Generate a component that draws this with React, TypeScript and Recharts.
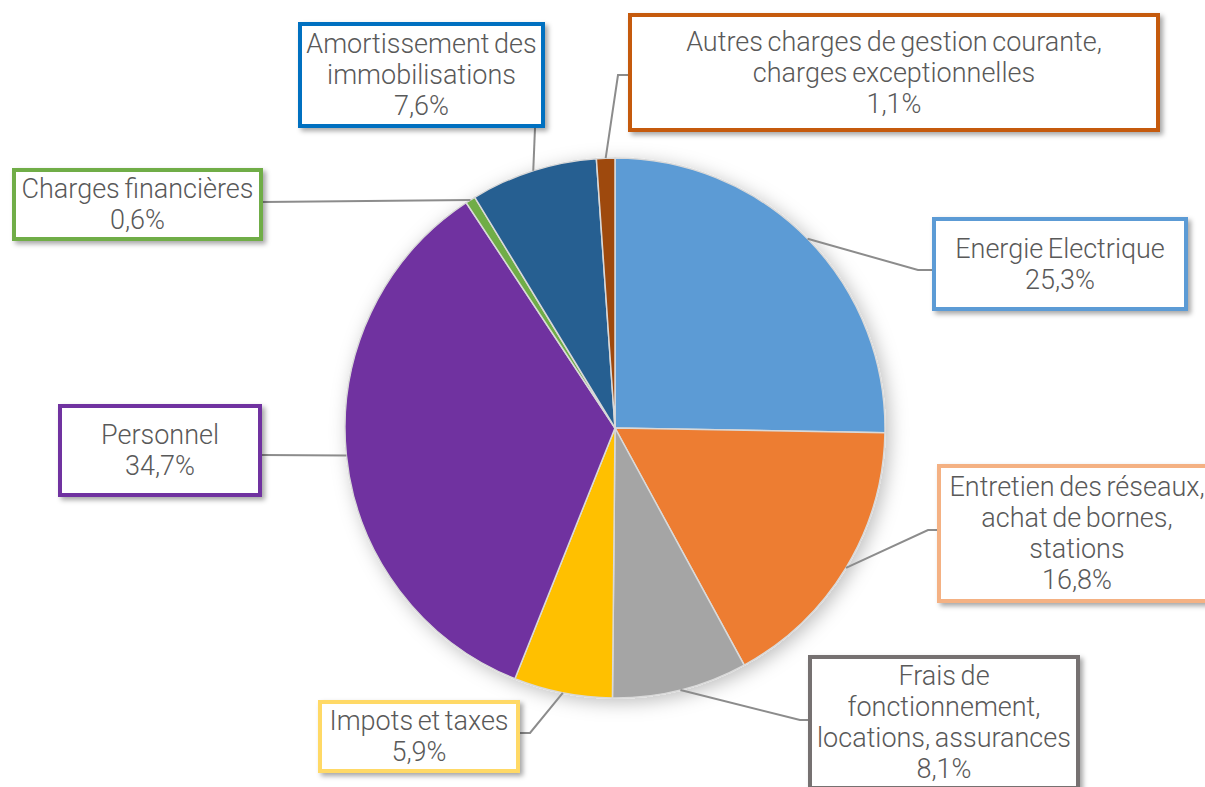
import { PieChart, Pie, Cell } from 'recharts';

const categories = [
  'Energie Electrique',
  'Entretien des réseaux,\nachat de bornes,\nstations',
  'Frais de\nfonctionnement,\nlocations, assurances',
  'Impots et taxes',
  'Personnel',
  'Charges financières',
  'Amortissement des\nimmobilisations',
  'Autres charges de gestion courante,\ncharges exceptionnelles',
];
const shares = [25.3, 16.8, 8.1, 5.9, 34.7, 0.6, 7.6, 1.1];

const sliceColors = ['#5B9BD5', '#ED7D31', '#A5A5A5', '#FFC000', '#7030A0', '#70AD47', '#255E91', '#9E480E'];
const boxColors = ['#5B9BD5', '#F4B183', '#767171', '#FFD966', '#7030A0', '#70AD47', '#0070C0', '#C55A11'];

// label box placement: [x, y, w, h] and leader line points after the arc point
const boxes = [
  { box: [932, 217, 256, 94], path: [[918, 270], [932, 270]] },
  { box: [937, 464, 280, 139], path: [[928, 530], [937, 530]] },
  { box: [808, 655, 272, 135], path: [[800, 720], [808, 720]] },
  { box: [318, 700, 202, 73], path: [[530, 733], [520, 733]] },
  { box: [58, 404, 204, 93], path: [[262, 455]] },
  { box: [12, 168, 251, 73], path: [[263, 202]] },
  { box: [298, 22, 247, 106], path: [[535, 128]] },
  { box: [628, 13, 532, 119], path: [[618, 75], [628, 75]] },
];

const data = categories.map((name, i) => ({ name, value: shares[i] }));

const RAD = Math.PI / 180;
const LINE_H = 31;

function renderLabel(props: any) {
  const { cx, cy, midAngle, outerRadius, index, value } = props;
  const sx = cx + outerRadius * Math.cos(-midAngle * RAD);
  const sy = cy + outerRadius * Math.sin(-midAngle * RAD);
  const { box, path } = boxes[index];
  const [bx, by, bw, bh] = box;
  const pts = [[sx, sy], ...path].map(p => p.join(',')).join(' ');
  const lines = [...categories[index].split('\n'), `${value.toFixed(1).replace('.', ',')}%`];
  const top = by + (bh - lines.length * LINE_H) / 2 + LINE_H / 2;
  return (
    <g key={`lbl-${index}`}>
      <polyline points={pts} fill="none" stroke="#8C8C8C" strokeWidth={2} />
      <rect x={bx + 2} y={by + 2} width={bw - 4} height={bh - 4} fill="#fff"
        stroke={boxColors[index]} strokeWidth={4} filter="url(#boxShadow)" />
      {lines.map((t, j) => (
        <text key={j} x={bx + bw / 2} y={top + j * LINE_H} textAnchor="middle" dominantBaseline="central"
          fill="#595959" fontSize={27} fontWeight={300} fontFamily="Roboto, sans-serif"
          style={{ wordSpacing: -2 }}>
          {t}
        </text>
      ))}
    </g>
  );
}

export default function App() {
  return (
    <div style={{ position: 'absolute', left: 0, top: 0, width: 1205, height: 787, background: '#fff', overflow: 'hidden' }}>
      <style>{`g:has(> g.recharts-pie-sector) { filter: url(#pieShadow); }`}</style>
      <svg width={0} height={0} style={{ position: 'absolute' }}>
        <defs>
          <filter id="pieShadow" x="-20%" y="-20%" width="140%" height="140%">
            <feDropShadow dx={4} dy={4} stdDeviation={9} floodColor="#000" floodOpacity={0.25} />
          </filter>
          <filter id="boxShadow" x="-10%" y="-20%" width="120%" height="140%">
            <feDropShadow dx={3} dy={3} stdDeviation={2.5} floodColor="#000" floodOpacity={0.35} />
          </filter>
        </defs>
      </svg>
      <PieChart width={1205} height={787} margin={{ top: 0, right: 0, bottom: 0, left: 0 }}>
        <Pie
          data={data}
          dataKey="value"
          nameKey="name"
          cx={615}
          cy={428}
          outerRadius={270}
          startAngle={90}
          endAngle={-270}
          stroke="#D9D9D9"
          strokeWidth={1.5}
          label={renderLabel}
          labelLine={false}
          isAnimationActive={false}
        >
          {data.map((d, i) => (
            <Cell key={d.name} fill={sliceColors[i]} />
          ))}
        </Pie>
      </PieChart>
    </div>
  );
}
